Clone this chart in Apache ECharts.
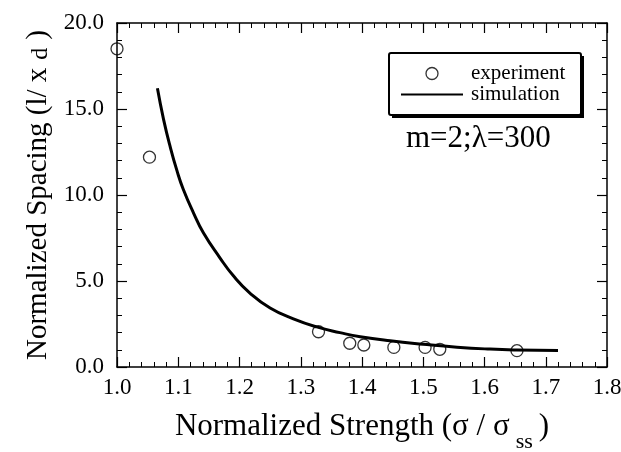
<!DOCTYPE html>
<html>
<head>
<meta charset="utf-8">
<script src="https://cdn.jsdelivr.net/npm/echarts@6/dist/echarts.min.js"></script>
<style>
  html, body { margin: 0; padding: 0; background: #fff; }
  #chart { width: 621px; height: 452px; }
</style>
</head>
<body>
<div id="chart"></div>
<script>
  // experiment points
  const expX = [1.0, 1.053, 1.329, 1.380, 1.403, 1.452, 1.503, 1.527, 1.653];
  const expY = [18.5, 12.2, 2.05, 1.38, 1.28, 1.14, 1.14, 1.03, 0.95];
  // simulation curve
  const simX = [1.066, 1.076, 1.087, 1.098, 1.108, 1.125, 1.141, 1.168, 1.190, 1.217, 1.250, 1.288, 1.326, 1.364, 1.397, 1.446, 1.500, 1.555, 1.609, 1.653, 1.720];
  const simY = [16.2, 14.4, 12.78, 11.4, 10.35, 8.95, 7.8, 6.35, 5.3, 4.3, 3.43, 2.8, 2.33, 2.0, 1.76, 1.52, 1.32, 1.15, 1.04, 0.99, 0.96];

  const serif = "'Liberation Serif', 'DejaVu Serif', serif";
  const chart = echarts.init(document.getElementById('chart'));

  const frameAxis = {
    type: 'value',
    axisLine: { show: true, onZero: false, lineStyle: { color: '#000', width: 1.5 } },
    axisTick: { show: true, inside: true, length: 10, lineStyle: { color: '#000', width: 1.2 } },
    minorTick: { show: true, splitNumber: 5, length: 5, lineStyle: { color: '#000', width: 1 } },
    splitLine: { show: false },
    minorSplitLine: { show: false }
  };

  chart.setOption({
    animation: false,
    backgroundColor: '#fff',
    textStyle: { fontFamily: serif, color: '#000' },
    grid: { left: 117, right: 14, top: 23, bottom: 85, outerBoundsMode: 'none' },
    xAxis: [
      Object.assign({}, frameAxis, {
        position: 'bottom', min: 1.0, max: 1.8, interval: 0.1,
        axisLabel: { color: '#000', fontSize: 23, fontFamily: serif, margin: 9,
          formatter: v => v.toFixed(1) },
        name: 'Normalized Strength (σ / σ{sub|ss})',
        nameLocation: 'middle', nameGap: 34,
        nameTextStyle: { color: '#000', fontSize: 31, fontFamily: serif,
          rich: { sub: { fontSize: 22, fontFamily: serif, padding: [30, 6, 0, 6] } } }
      }),
      Object.assign({}, frameAxis, {
        position: 'top', min: 1.0, max: 1.8, interval: 0.1,
        axisLabel: { show: false }
      })
    ],
    yAxis: [
      Object.assign({}, frameAxis, {
        position: 'left', min: 0, max: 20, interval: 5,
        axisLabel: { color: '#000', fontSize: 23, fontFamily: serif, margin: 13,
          formatter: v => v.toFixed(1) },
        name: 'Normalized Spacing (l/ x{sub|d})',
        nameLocation: 'middle', nameGap: 62, nameRotate: 90,
        nameTextStyle: { color: '#000', fontSize: 29, fontFamily: serif,
          rich: { sub: { fontSize: 24, fontFamily: serif, padding: [5, 8, 0, 8] } } }
      }),
      Object.assign({}, frameAxis, {
        position: 'right', min: 0, max: 20, interval: 5,
        axisLabel: { show: false }
      })
    ],
    legend: {
      orient: 'vertical',
      left: 400, top: 63,
      padding: 0,
      itemWidth: 62, itemHeight: 12, itemGap: 0,
      textStyle: { color: '#000', fontSize: 21, fontFamily: serif, lineHeight: 20, padding: [0, 0, 0, 3] },
      data: [
        { name: 'experiment', icon: 'circle',
          itemStyle: { color: '#fff', borderColor: '#000', borderWidth: 1.3 } },
        { name: 'simulation', lineStyle: { color: '#000', width: 2 }, itemStyle: { opacity: 0 } }
      ]
    },
    graphic: [
      // legend frame with its drop shadow
      { type: 'rect', left: 392, top: 56, z: 0, shape: { width: 192, height: 62 },
        style: { fill: '#000' } },
      { type: 'rect', left: 388, top: 52, z: 1, shape: { width: 192, height: 62, r: 2 },
        style: { fill: '#fff', stroke: '#000', lineWidth: 2 } },
      { type: 'text', left: 406, top: 123, z: 1,
        style: { text: 'm=2;λ=300', fontSize: 31, fontFamily: serif, fill: '#000' } }
    ],
    series: [
      {
        name: 'simulation', type: 'line', smooth: 0.5, symbol: 'none',
        lineStyle: { color: '#000', width: 3 },
        itemStyle: { color: '#000' },
        data: simX.map((x, i) => [x, simY[i]]),
        z: 2
      },
      {
        name: 'experiment', type: 'scatter', symbol: 'circle', symbolSize: 12,
        itemStyle: { color: 'rgba(255,255,255,0)', borderColor: '#000', borderWidth: 1.3 },
        data: expX.map((x, i) => [x, expY[i]]),
        z: 3
      }
    ]
  });
</script>
</body>
</html>
